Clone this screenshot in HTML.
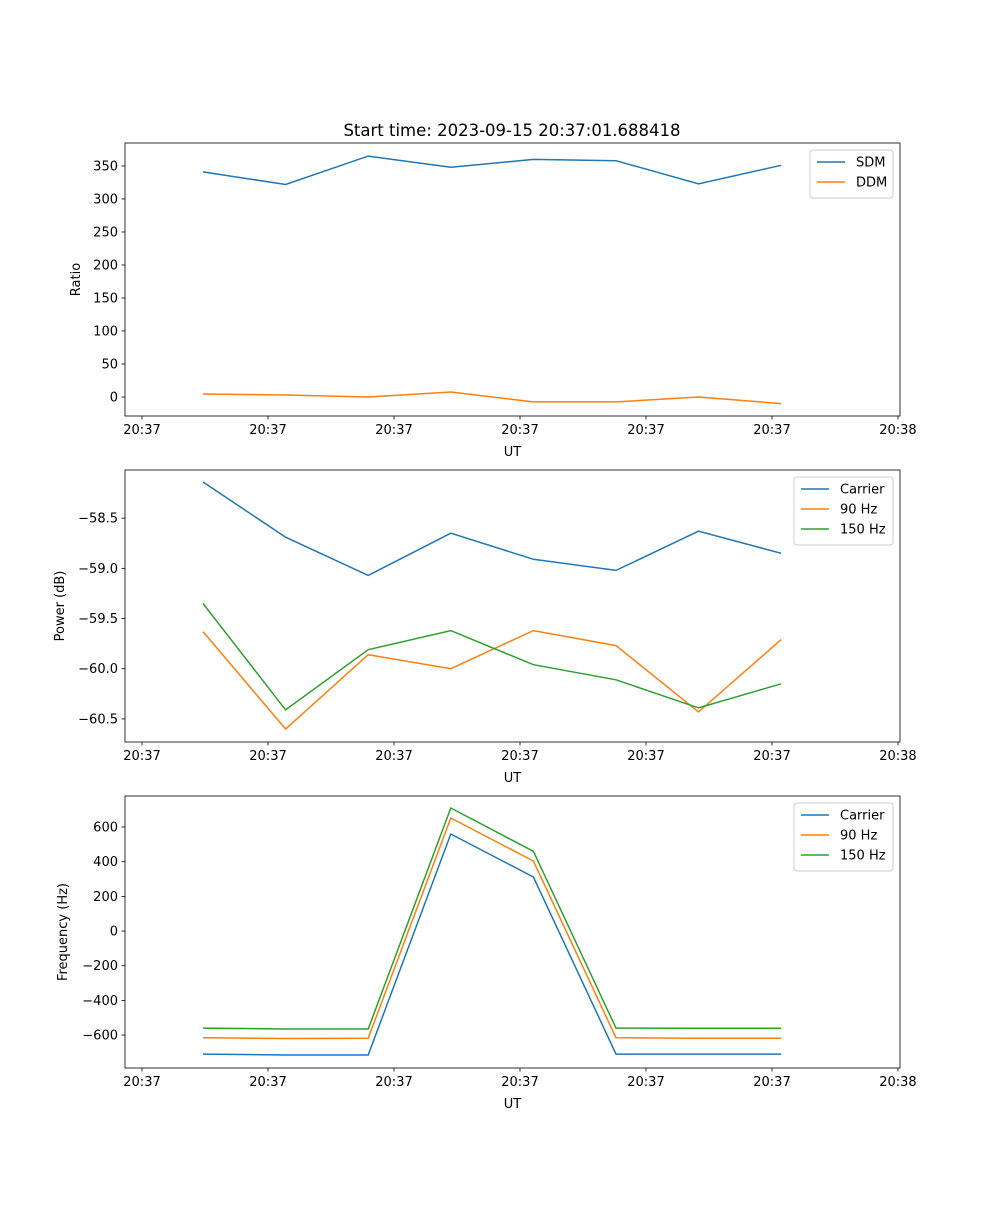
<!DOCTYPE html>
<html><head><meta charset="utf-8"><style>
body{margin:0;background:#fff;}
svg text{font-family:"DejaVu Sans","Liberation Sans",sans-serif;font-size:13px;fill:#000;}
</style></head><body>
<svg id="fig" width="1000" height="1200" xmlns="http://www.w3.org/2000/svg"></svg>
<script>
const times=[4.84,11.40,17.95,24.51,31.06,37.62,44.17,50.73];
const xTicks=[0,10,20,30,40,50,60];
const xTickLabels=["20:37","20:37","20:37","20:37","20:37","20:37","20:38"];
const sdm=[341,322,365,348,360,358,323,351];
const ddm=[4.5,3,0,7.5,-7.5,-7.5,0,-10];
const pCarrier=[-58.14,-58.69,-59.07,-58.65,-58.91,-59.02,-58.63,-58.85];
const p90=[-59.63,-60.60,-59.86,-60.00,-59.62,-59.77,-60.43,-59.71];
const p150=[-59.35,-60.41,-59.81,-59.62,-59.96,-60.11,-60.39,-60.15];
const fCarrier=[-710,-715,-715,560,312,-710,-710,-710];
const f90=[-615,-620,-618,652,404,-615,-618,-618];
const f150=[-560,-565,-565,710,460,-560,-561,-561];
const ratioTicks=[0,50,100,150,200,250,300,350];
const powerTicks=[-58.5,-59.0,-59.5,-60.0,-60.5];
const freqTicks=[-600,-400,-200,0,200,400,600];
const C=["#1f77b4","#ff7f0e","#2ca02c"];
const svg=document.getElementById('fig');
const NS="http://www.w3.org/2000/svg";
function mk(tag,attrs,parent){const e=document.createElementNS(NS,tag);for(const k in attrs)e.setAttribute(k,attrs[k]);(parent||svg).appendChild(e);return e;}
const L=125,R=900,X0=-1.35,X1=60.16;
function sx(v){return L+(v-X0)/(X1-X0)*(R-L);}
function panel(name,top,bot,y0,y1,yticks,fmt,ylabel,ylabX,series,legend){
  const g=mk('g',{});
  
  const sy=v=>bot-(v-y0)/(y1-y0)*(bot-top);
  series.forEach((s,i)=>{
    const pts=times.map((t,j)=>sx(t).toFixed(1)+','+sy(s.data[j]).toFixed(1)).join(' ');
    const p=mk('polyline',{points:pts,fill:'none',stroke:C[i],'stroke-width':1.5},g);
    
  });
  mk('rect',{x:L,y:top,width:R-L,height:bot-top,fill:'none',stroke:'#000','stroke-width':0.8},g);
  xTicks.forEach((t,i)=>{const x=sx(t);mk('line',{x1:x,x2:x,y1:bot,y2:bot+3.5,stroke:'#000','stroke-width':0.8},g);
    const tx=mk('text',{x:x,y:bot+18,'text-anchor':'middle'},g);tx.textContent=xTickLabels[i];
    });
  yticks.forEach(t=>{const y=sy(t);mk('line',{x1:L-3.5,x2:L,y1:y,y2:y,stroke:'#000','stroke-width':0.8},g);
    const tx=mk('text',{x:L-7,y:y+4.5,'text-anchor':'end'},g);tx.textContent=fmt(t);
    });
  const xl=mk('text',{x:(L+R)/2,y:bot+40,'text-anchor':'middle'},g);xl.textContent='UT';
  
  const yc=(top+bot)/2;
  const yl=mk('text',{x:ylabX,y:yc,'text-anchor':'middle',transform:`rotate(-90 ${ylabX} ${yc})`},g);yl.textContent=ylabel;
  
  const lw=legend.w,lh=8+series.length*20,lx=R-7-lw,ly=top+7;
  const lg=mk('g',{},g);
  mk('rect',{x:lx,y:ly,width:lw,height:lh,rx:3,fill:'#fff','fill-opacity':0.8,stroke:'#ccc'},lg);
  series.forEach((s,i)=>{const yy=ly+12+i*20;
    mk('line',{x1:lx+7,x2:lx+35,y1:yy,y2:yy,stroke:C[i],'stroke-width':1.5},lg);
    const t=mk('text',{x:lx+46,y:yy+4.5},lg);t.textContent=s.label;
    });
}
const title=mk('text',{x:512,y:136,'text-anchor':'middle',style:'font-size:16.5px'});
title.textContent='Start time: 2023-09-15 20:37:01.688418';

panel('ratio-panel',143,416,-28.8,384.8,ratioTicks,v=>String(v),'Ratio',80,
  [{id:'sdm',label:'SDM',data:sdm},{id:'ddm',label:'DDM',data:ddm}],{w:83});
panel('power-panel',470,742,-60.73,-58.02,powerTicks,v=>(v<0?'\u2212':'')+Math.abs(v).toFixed(1),'Power (dB)',64,
  [{id:'carrier-power',label:'Carrier',data:pCarrier},{id:'90hz-power',label:'90 Hz',data:p90},{id:'150hz-power',label:'150 Hz',data:p150}],{w:99});
panel('frequency-panel',796,1068,-790,779,freqTicks,v=>(v<0?'\u2212':'')+Math.abs(v),'Frequency (Hz)',67,
  [{id:'carrier-freq',label:'Carrier',data:fCarrier},{id:'90hz-freq',label:'90 Hz',data:f90},{id:'150hz-freq',label:'150 Hz',data:f150}],{w:99});
</script>
</body></html>
